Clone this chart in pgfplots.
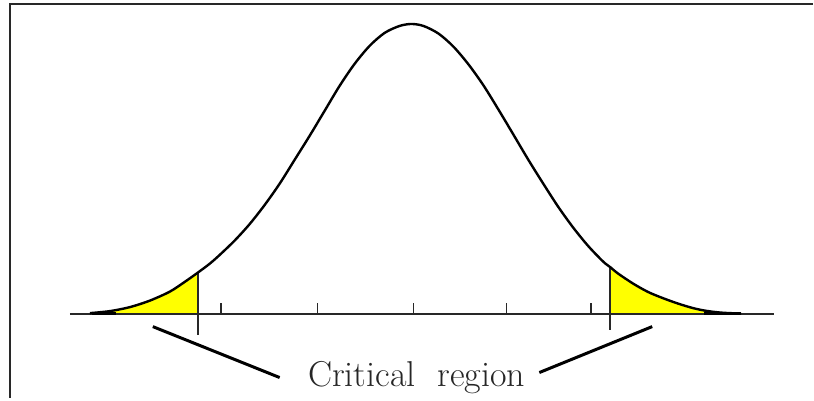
\documentclass[border=0pt]{standalone}
\usepackage{pgfplots}
\pgfplotsset{compat=1.18}
\definecolor{tailyellow}{RGB}{255,255,0}
\definecolor{ink}{RGB}{40,40,40}
\begin{document}
\begin{tikzpicture}
\begin{axis}[
    x=0.5pt, y=0.5pt,
    xmin=0, xmax=814, ymin=-84, ymax=314,
    hide axis, clip=false
]
    % shaded tails
    \addplot[fill=tailyellow, draw=none, smooth] coordinates {
        (90,0.5) (110,2.5) (130,6.5) (150,13) (170,22) (185,31.8) (198,41)} |- (axis cs:90,0) -- cycle;
    \addplot[fill=tailyellow, draw=none, smooth] coordinates {
        (611,46.5) (619,40) (634,30) (649,21.6) (664,15.4) (679,10) (694,5.5) (707,2.8) (722,1) (742,0)} -| (axis cs:611,0) -- cycle;
    % baseline
    \addplot[ink, line width=1.1pt] coordinates {(70,0) (775,0)};
    \addplot[black, line width=1.6pt] coordinates {(92,0) (116,0)};
    \addplot[black, line width=1.6pt] coordinates {(705,0) (742,0)};
    % ticks
    \addplot[ink, line width=0.8pt] coordinates {(221,0) (221,11)};
    \addplot[ink, line width=0.8pt] coordinates {(318,0) (318,11)};
    \addplot[ink, line width=0.8pt] coordinates {(414,0) (414,11)};
    \addplot[ink, line width=0.8pt] coordinates {(507,0) (507,11)};
    \addplot[ink, line width=0.8pt] coordinates {(592,0) (592,11)};
    % critical values
    \addplot[ink, line width=0.9pt] coordinates {(198,41) (198,-21)};
    \addplot[ink, line width=0.9pt] coordinates {(611,46.5) (611,-16)};
    % curve
    \addplot[black, line width=1.2pt, smooth] coordinates {
        (90,0.5) (110,2.5) (130,6.5) (150,13) (170,22) (185,31.8) (198,41)
        (210,50) (220,58.8) (235,73.2) (250,89.7) (265,108.8) (280,130.1) (295,154)
        (310,178) (325,203) (340,228) (355,250) (370,268) (385,281) (400,288)
        (412,290) (424,288) (439,280.4) (454,267.3) (469,249.6) (484,228.6)
        (499,204.4) (514,179.3) (529,154) (544,130) (559,106.8) (574,86)
        (589,67.6) (604,52) (611,46.5) (619,40) (634,30) (649,21.6) (664,15.4)
        (679,10) (694,5.5) (707,2.8) (722,1) (742,0)};
    % pointers
    \addplot[black, line width=1.5pt] coordinates {(153,-13) (280,-64)};
    \addplot[black, line width=1.5pt] coordinates {(540,-59) (653,-13)};
    \node[anchor=base, text=black!85, font=\fontsize{18}{20}\selectfont]
        at (axis cs:417,-73) {Critical\ \ region};
    % frame
    \draw[ink, line width=1pt] (axis cs:10,-84) -- (axis cs:10,310) -- (axis cs:814,310);
    \path (axis cs:0,-84) rectangle (axis cs:814,314);
\end{axis}
\end{tikzpicture}
\end{document}
